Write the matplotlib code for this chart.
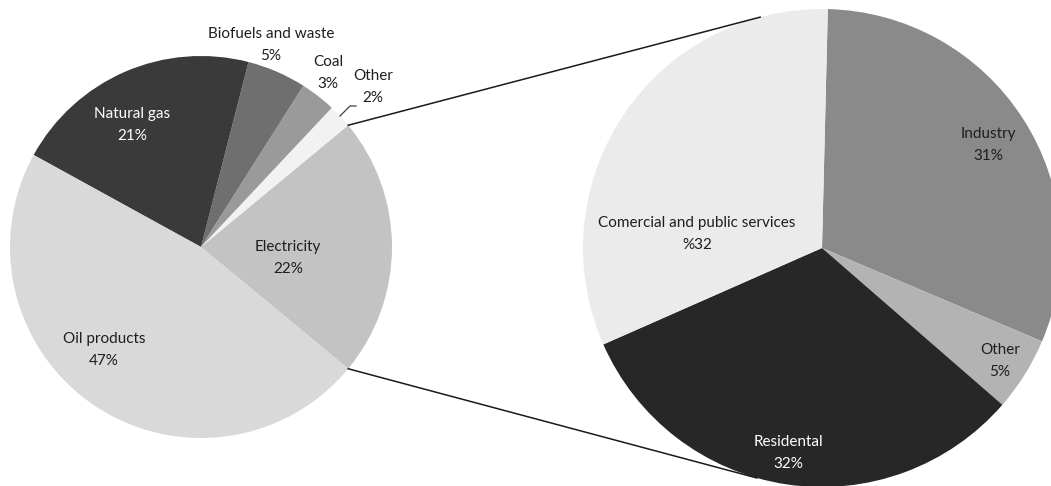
import numpy as np
import matplotlib.pyplot as plt

plt.rcParams['font.family'] = ['Lato', 'DejaVu Sans']

# left pie: final energy consumption by fuel
fuel_names = ['Electricity', 'Other', 'Coal', 'Biofuels and waste', 'Natural gas', 'Oil products']
fuel_share = [22, 2, 3, 5, 21, 47]
fuel_pct = ['22%', '2%', '3%', '5%', '21%', '47%']

# right pie: electricity by sector
sector_names = ['Industry', 'Other', 'Residental', 'Comercial and public services']
sector_share = [31, 5, 32, 32]
sector_pct = ['31%', '5%', '32%', '%32']

fuel_colors = ['#c3c3c3', '#f2f2f2', '#9a9a9a', '#6f6f6f', '#3a3a3a', '#d9d9d9']
fuel_text = ['#1e1e1e', '#1e1e1e', '#1e1e1e', '#1e1e1e', 'white', '#1e1e1e']
sector_colors = ['#8a8a8a', '#b3b3b3', '#272727', '#ebebeb']
sector_text = ['#1e1e1e', '#1e1e1e', 'white', '#1e1e1e']

W, H = 1051, 486
fig = plt.figure(figsize=(W / 100, H / 100), dpi=100)
ax = fig.add_axes([0, 0, 1, 1])

c1, r1 = (201, H - 247), 191
c2, r2 = (822, H - 248), 239

elec_start = -fuel_share[0] / 100 * 360 / 2
w1, _ = ax.pie(fuel_share, colors=fuel_colors, startangle=elec_start, counterclock=True,
               center=c1, radius=r1, wedgeprops=dict(linewidth=0), frame=True)
w2, _ = ax.pie(sector_share, colors=sector_colors, startangle=88.6, counterclock=False,
               center=c2, radius=r2, wedgeprops=dict(linewidth=0), frame=True)

# labels (image pixel positions of the label centre), two lines 22 px apart
fuel_pos = [(288, 258), (373, 87), (328, 73), (271, 45), (132, 125), (104, 350)]
sector_pos = [(988, 145), (1000, 361), (788, 453), (697, 234)]


def label(name, pct, pos, col):
    x, y = pos
    ax.text(x, H - (y - 11), name, ha='center', va='center', color=col, fontsize=11)
    ax.text(x, H - (y + 11), pct, ha='center', va='center', color=col, fontsize=11)


for n, p, pos, col in zip(fuel_names, fuel_pct, fuel_pos, fuel_text):
    label(n, p, pos, col)
for n, p, pos, col in zip(sector_names, sector_pct, sector_pos, sector_text):
    label(n, p, pos, col)

# leader for small "Other" slice
ax.plot([340, 350, 356], [H - 116, H - 106, H - 106], color='#404040', lw=0.9)

# connector lines from the electricity wedge to the sector pie
for th1, th2 in [(w1[0].theta2, 105.0), (w1[0].theta1, -105.8)]:
    a1, a2 = np.radians(th1), np.radians(th2)
    ax.plot([c1[0] + r1 * np.cos(a1), c2[0] + r2 * np.cos(a2)],
            [c1[1] + r1 * np.sin(a1), c2[1] + r2 * np.sin(a2)],
            color='#1a1a1a', lw=1.1)

ax.set_xlim(0, W)
ax.set_ylim(0, H)
ax.set_aspect('equal')
ax.axis('off')
fig.savefig('out.png', dpi=100)
